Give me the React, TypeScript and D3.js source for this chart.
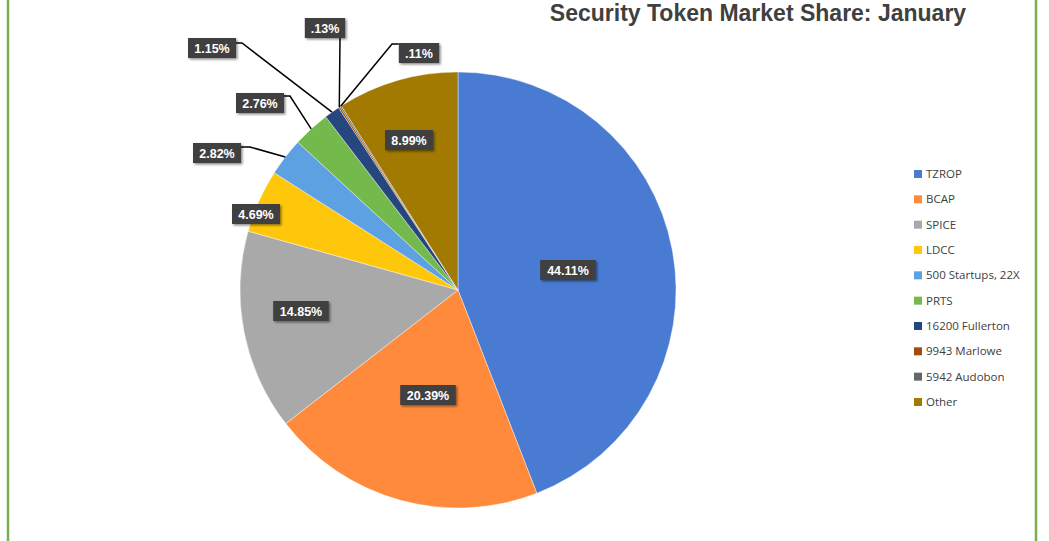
import React from "react";
import * as d3 from "d3";

const categories = ["TZROP", "BCAP", "SPICE", "LDCC", "500 Startups, 22X", "PRTS", "16200 Fullerton", "9943 Marlowe", "5942 Audobon", "Other"];
const values = [44.11, 20.39, 14.85, 4.69, 2.82, 2.76, 1.15, 0.13, 0.11, 8.99];
const labels = ["44.11%", "20.39%", "14.85%", "4.69%", "2.82%", "2.76%", "1.15%", ".13%", ".11%", "8.99%"];
const colors = ["#4A7BD2", "#FF8A3B", "#A9A9A9", "#FFC70C", "#5DA1E2", "#73B94C", "#26477E", "#A14A12", "#666666", "#A27A02"];

// label layout: box centre (absolute) and optional leader-line elbow
type Lay = { x: number; y: number; elbow?: [number, number] };
const layout: Lay[] = [
  { x: 568, y: 270 },
  { x: 428, y: 395 },
  { x: 301, y: 311 },
  { x: 256, y: 214 },
  { x: 217, y: 153, elbow: [250, 147] },
  { x: 260, y: 103, elbow: [290, 96] },
  { x: 212, y: 48, elbow: [242, 43] },
  { x: 325, y: 28, elbow: [340, 38] },
  { x: 419, y: 53, elbow: [392, 44] },
  { x: 409, y: 140 },
];

export default function App() {
  const W = 1049, H = 541;
  const cx = 458, cy = 290, r = 218;
  const pie = d3.pie<number>().sort(null).value((d) => d);
  const arcs = pie(values);
  const arc = d3.arc<d3.PieArcDatum<number>>().innerRadius(0).outerRadius(r);
  const legendY = d3.scaleLinear().domain([0, 9]).range([174, 402]);

  return (
    <svg width={W} height={H} style={{ position: "absolute", left: 0, top: 0, background: "#fff" }}
      fontFamily="'Liberation Sans', Arial, sans-serif">
      <defs>
        <filter id="sh" x="-20%" y="-30%" width="150%" height="170%">
          <feDropShadow dx="1.5" dy="1.5" stdDeviation="1.2" floodColor="#000" floodOpacity="0.45" />
        </filter>
      </defs>
      <rect x={0} y={0} width={W} height={H} fill="#fff" />
      <line x1={8} y1={0} x2={8} y2={H} stroke="#7AAE55" strokeWidth={2.5} />
      <line x1={1036} y1={0} x2={1036} y2={H} stroke="#7AAE55" strokeWidth={2.5} />
      <text x={758} y={21} textAnchor="middle" fontSize={23} fontWeight="bold" fill="#404040">
        Security Token Market Share: January
      </text>
      <g transform={`translate(${cx},${cy})`}>
        {arcs.map((a, i) => (
          <path key={i} d={arc(a) || ""} fill={colors[i]} stroke="#fff" strokeWidth={0.4} />
        ))}
      </g>
      {arcs.map((a, i) => {
        const L = layout[i];
        if (!L.elbow) return null;
        const mid = (a.startAngle + a.endAngle) / 2;
        const px = cx + r * Math.sin(mid);
        const py = cy - r * Math.cos(mid);
        const w = labels[i].length * 7.6 + 10;
        let sx: number, sy: number;
        if (i === 7) { sx = L.x + w / 2 - 5; sy = L.y + 10; }
        else if (i === 8) { sx = L.x - w / 2; sy = L.elbow[1]; }
        else { sx = L.x + w / 2; sy = L.elbow[1]; }
        return (
          <polyline key={"l" + i} points={`${sx},${sy} ${L.elbow[0]},${L.elbow[1]} ${px},${py}`}
            fill="none" stroke="#000" strokeWidth={1.5} />
        );
      })}
      {labels.map((t, i) => {
        const L = layout[i];
        const w = t.length * 7.6 + 10;
        return (
          <g key={"b" + i}>
            <rect x={L.x - w / 2} y={L.y - 10} width={w} height={20} fill="#404040" filter="url(#sh)" />
            <text x={L.x} y={L.y + 4.5} textAnchor="middle" fontSize={12.5} fontWeight="bold" fill="#fff">{t}</text>
          </g>
        );
      })}
      {categories.map((c, i) => (
        <g key={"g" + i} transform={`translate(914,${legendY(i)})`}>
          <rect x={0} y={-4} width={8} height={8} fill={colors[i]} />
          <text x={12} y={4} fontSize={11.5} fill="#404040" fontFamily="'Open Sans', 'Liberation Sans', sans-serif">{c}</text>
        </g>
      ))}
    </svg>
  );
}
